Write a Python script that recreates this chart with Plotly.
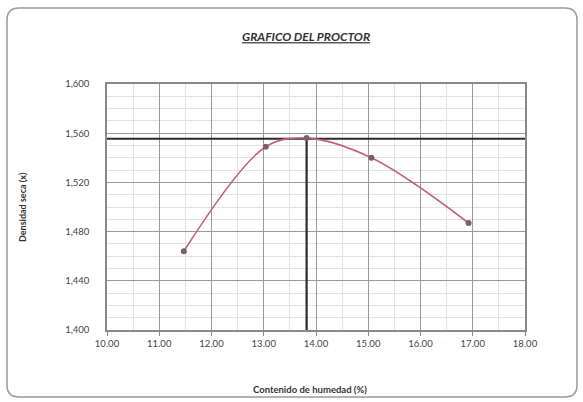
import plotly.graph_objects as go

# Data
humedad = [11.47, 13.04, 13.82, 15.06, 16.92]
densidad = [1.464, 1.549, 1.556, 1.540, 1.487]
och = 13.82          # optimum moisture content
mdd = 1.5555         # maximum dry density
x_ticks = [10, 11, 12, 13, 14, 15, 16, 17, 18]
y_ticks = [1.400, 1.440, 1.480, 1.520, 1.560, 1.600]
y_ticktext = ["1,400", "1,440", "1,480", "1,520", "1,560", "1,600"]
x_range = [10, 18]
y_range = [1.400, 1.600]

FONT = "Lato"
W, H = 583, 402
ML, MR, MT, MB = 107, 58, 84, 72
PW, PH = W - ML - MR, H - MT - MB


def px(xp):
    return (xp - ML) / PW


def py(yp):
    return (H - MB - yp) / PH


# rounded frame around the chart (pixel -> paper coords)
x0, x1, y0, y1 = px(7), px(577), py(397), py(8)
rx, ry = 12 / PW, 12 / PH
frame = (f"M {x0+rx},{y1} L {x1-rx},{y1} Q {x1},{y1} {x1},{y1-ry} "
         f"L {x1},{y0+ry} Q {x1},{y0} {x1-rx},{y0} "
         f"L {x0+rx},{y0} Q {x0},{y0} {x0},{y0+ry} "
         f"L {x0},{y1-ry} Q {x0},{y1} {x0+rx},{y1} Z")

fig = go.Figure()

# reference lines (max dry density / optimum moisture)
fig.add_trace(go.Scatter(x=x_range, y=[mdd, mdd], mode="lines",
                         line=dict(color="#2a2a2a", width=2.2),
                         hoverinfo="skip", showlegend=False))
fig.add_trace(go.Scatter(x=[och, och], y=[y_range[0], mdd], mode="lines",
                         line=dict(color="#2a2a2a", width=2.2),
                         hoverinfo="skip", showlegend=False))

# Proctor curve
fig.add_trace(go.Scatter(x=humedad, y=densidad, mode="lines+markers",
                         line=dict(color="#c4607e", width=1.6, shape="spline", smoothing=1.0),
                         marker=dict(color="#7a6068", size=6, symbol="circle"),
                         showlegend=False))

fig.update_layout(
    width=W, height=H,
    margin=dict(l=ML, r=MR, t=MT, b=MB),
    paper_bgcolor="white", plot_bgcolor="white",
    font=dict(family=FONT, color="#444", size=9),
    title=dict(text="<b><i><u>GRAFICO DEL PROCTOR</u></i></b>",
               x=0.525, xanchor="center", y=1 - 37 / H, yanchor="middle",
               font=dict(family=FONT, size=12, color="#333")),
    shapes=[dict(type="path", path=frame, xref="paper", yref="paper",
                 line=dict(color="#9a9a9a", width=1.5), layer="above")],
    annotations=[
        dict(text="<b>Densidad seca (x)</b>", xref="paper", yref="paper",
             x=px(22), y=py(207), textangle=-90,
             showarrow=False, font=dict(family=FONT, size=9, color="#333"),
             xanchor="center", yanchor="middle"),
        dict(text="<b>Contenido de humedad (%)</b>", xref="paper", yref="paper",
             x=px(310), y=py(389),
             showarrow=False, font=dict(family=FONT, size=9.5, color="#333"),
             xanchor="center", yanchor="middle"),
    ],
)

fig.update_xaxes(range=x_range, tickvals=x_ticks, tickformat=".2f",
                 showgrid=True, gridcolor="#9a9a9a", gridwidth=1,
                 minor=dict(dtick=0.5, showgrid=True, gridcolor="#e2e2e2", gridwidth=1),
                 showline=True, linecolor="#8a8a8a", linewidth=1.5, mirror=True,
                 ticks="outside", ticklen=4, tickcolor="#8a8a8a",
                 tickfont=dict(size=9.5, color="#444"), zeroline=False)
fig.update_yaxes(range=y_range, tickvals=y_ticks, ticktext=y_ticktext,
                 showgrid=True, gridcolor="#9a9a9a", gridwidth=1,
                 minor=dict(dtick=0.01, showgrid=True, gridcolor="#e2e2e2", gridwidth=1),
                 showline=True, linecolor="#8a8a8a", linewidth=1.5, mirror=True,
                 ticks="", ticklabelstandoff=14,
                 tickfont=dict(size=9.5, color="#444"), zeroline=False)

fig.write_html("out.html", config={"displayModeBar": False},
               post_script="document.body.style.margin='0px';")
